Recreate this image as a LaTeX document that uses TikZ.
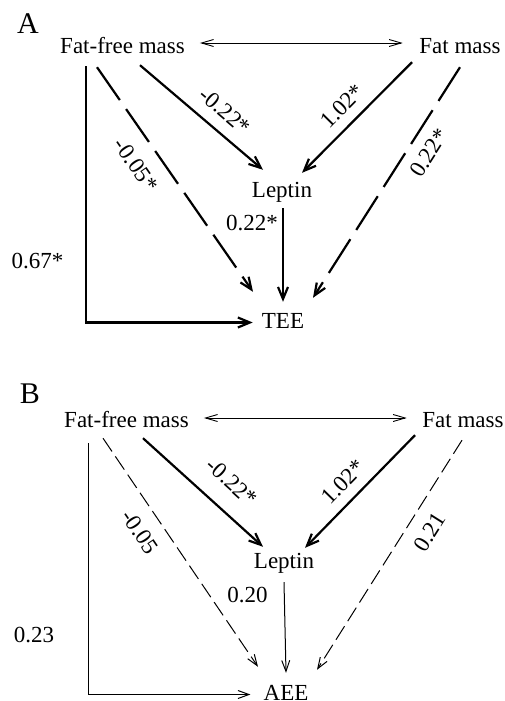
\documentclass[tikz,border=0pt]{standalone}
\usepackage{fontspec}
\setmainfont{Liberation Serif}
\usetikzlibrary{arrows.meta}
\tikzset{
  txt/.style={font=\fontsize{23}{27}\selectfont, inner sep=0pt, text height=16pt, text depth=5pt, anchor=base},
  rlbl/.style={font=\fontsize{23}{27}\selectfont, inner sep=0pt, anchor=center},
  big/.style={font=\fontsize{30}{34}\selectfont, inner sep=0pt, anchor=base},
  heavy/.style={line width=2.2pt, -{Straight Barb[length=12pt,width=10pt]}},
  heavydash/.style={heavy, dash pattern=on 40pt off 11pt},
  light/.style={line width=1pt, -{Straight Barb[length=11pt,width=8pt]}},
  lightdash/.style={light, dash pattern=on 16pt off 6pt},
  both/.style={line width=0.9pt, {Straight Barb[length=12pt,width=7pt]}-{Straight Barb[length=12pt,width=7pt]}},
}
\begin{document}
\begin{tikzpicture}[x=1pt,y=-1pt]
\useasboundingbox[fill=white] (0,0) rectangle (505,701);

% ---------- Panel A ----------
\node[big] (labA) at (28,34) {A};
\node[txt] (ffmA) at (122.5,53) {Fat-free mass};
\node[txt] (fmA) at (460,53) {Fat mass};
\node[txt] (lepA) at (282,197) {Leptin};
\node[txt] (teeA) at (283,328) {TEE};

\draw[both] ([xshift=15pt,yshift=4.5pt]ffmA.east) -- ([xshift=-16.5pt,yshift=4.5pt]fmA.west);
\draw[heavy] ([xshift=-36.5pt,yshift=-8pt]ffmA.south) |- ([xshift=-9pt]teeA.west);
\draw[heavydash] ([xshift=-25.5pt,yshift=-9pt]ffmA.south) -- ([xshift=-30pt,yshift=20pt]teeA.north);
\draw[heavy] ([xshift=17.5pt,yshift=-7pt]ffmA.south) -- ([xshift=-19pt,yshift=11pt]lepA.north);
\draw[heavy] ([xshift=-48pt,yshift=-4pt]fmA.south) -- ([xshift=20pt,yshift=8pt]lepA.north);
\draw[heavydash] ([yshift=-9pt]fmA.south) -- ([xshift=30pt,yshift=14pt]teeA.north);
\draw[heavy] ([xshift=1pt,yshift=-6pt]lepA.south) -- ([yshift=10pt]teeA.north);

\node[rlbl, rotate=-40.5] (a1) at (225,111) {-0.22*};
\node[rlbl, rotate=45.3] (a2) at (342,106) {1.02*};
\node[rlbl, rotate=-55.3] (a3) at (136,165) {-0.05*};
\node[rlbl, rotate=57.5] (a4) at (429,153) {0.22*};
\node[txt] (a5) at (252,230) {0.22*};
\node[txt] (a6) at (37.5,268) {0.67*};

% ---------- Panel B ----------
\node[big] (labB) at (30,403) {B};
\node[txt] (ffmB) at (126.5,427) {Fat-free mass};
\node[txt] (fmB) at (463,427) {Fat mass};
\node[txt] (lepB) at (284,568) {Leptin};
\node[txt] (aeeB) at (286,700) {AEE};

\draw[both] ([xshift=15pt,yshift=3.5pt]ffmB.east) -- ([xshift=-15.5pt,yshift=3.5pt]fmB.west);
\draw[light] ([xshift=-38.5pt,yshift=-11pt]ffmB.south) |- ([xshift=-13pt]aeeB.west);
\draw[lightdash] ([xshift=-23.5pt,yshift=-6pt]ffmB.south) -- ([xshift=-28pt,yshift=17pt]aeeB.north);
\draw[heavy] ([xshift=16.5pt,yshift=-6pt]ffmB.south) -- ([xshift=-21pt,yshift=5pt]lepB.north);
\draw[heavy] ([xshift=-48pt,yshift=-3pt]fmB.south) -- ([xshift=21pt,yshift=4pt]lepB.north);
\draw[lightdash] ([xshift=-1pt,yshift=-8pt]fmB.south) -- ([xshift=31pt,yshift=14pt]aeeB.north);
\draw[light] ([yshift=-9pt]lepB.south) -- ([yshift=11pt]aeeB.north);

\node[rlbl, rotate=-42.2] (b1) at (232,482) {-0.22*};
\node[rlbl, rotate=45.8] (b2) at (343,482) {1.02*};
\node[rlbl, rotate=-55.9] (b3) at (140,532) {-0.05};
\node[rlbl, rotate=57.8] (b4) at (430,532) {0.21};
\node[txt] (b5) at (247.5,602) {0.20};
\node[txt] (b6) at (34,642) {0.23};
\end{tikzpicture}
\end{document}
